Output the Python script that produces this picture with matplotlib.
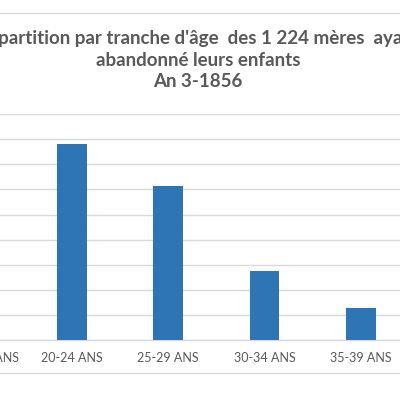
import matplotlib
matplotlib.use("Agg")
import matplotlib.pyplot as plt
from matplotlib.lines import Line2D

# Données (lues sur le graphique, pas d'échelle visible : pas de 50)
categories = ["MOINS 20 ANS", "20-24 ANS", "25-29 ANS", "30-34 ANS", "35-39 ANS", "40 ANS ET +"]
meres = [None, 390, 307, 138, 65, None]
graduations = list(range(0, 451, 50))

titre = "Répartition par tranche d'âge  des 1 224 mères  ayant\nabandonné leurs enfants\nAn 3-1856"

BLEU = "#2E75B6"
GRIS_TEXTE = "#595959"
GRIS_GRILLE = "#D9D9D9"

plt.rcParams['font.family'] = ['Lato', 'DejaVu Sans']

fig = plt.figure(figsize=(4, 4), dpi=100)
fig.patch.set_facecolor("white")

# zone de tracé plus large que l'image (le graphique d'origine est recadré)
ax = fig.add_axes([-0.1805, 0.149, 1.443, 0.566])

pos = [i for i, v in enumerate(meres) if v is not None]
hauteurs = [v for v in meres if v is not None]
ax.bar(pos, hauteurs, width=0.31, color=BLEU, zorder=3)

ax.set_xlim(-0.5, len(categories) - 0.5)
ax.set_ylim(0, 450)
ax.set_yticks(graduations)
ax.set_yticklabels([])
ax.set_xticks(range(len(categories)))
ax.set_xticklabels(categories, fontsize=9, color=GRIS_TEXTE)
ax.tick_params(axis="both", length=0)
ax.tick_params(axis="x", pad=8)
ax.grid(axis="y", color=GRIS_GRILLE, linewidth=1, zorder=0)
for s in ["top", "right", "left"]:
    ax.spines[s].set_visible(False)
ax.spines["bottom"].set_color(GRIS_GRILLE)
ax.spines["bottom"].set_linewidth(1)

# titre
fig.text(0.495, 1 - 60 / 400, titre, ha="center", va="center", fontsize=13.5,
         fontweight="bold", color=GRIS_TEXTE, linespacing=1.3,
         multialignment="center")

# bordure de la zone de graphique
fig.add_artist(Line2D([0, 1], [1 - 13 / 400, 1 - 13 / 400], color=GRIS_GRILLE, linewidth=1))
fig.add_artist(Line2D([0, 1], [1 - 373 / 400, 1 - 373 / 400], color=GRIS_GRILLE, linewidth=1))

fig.savefig("out.png", dpi=100)
